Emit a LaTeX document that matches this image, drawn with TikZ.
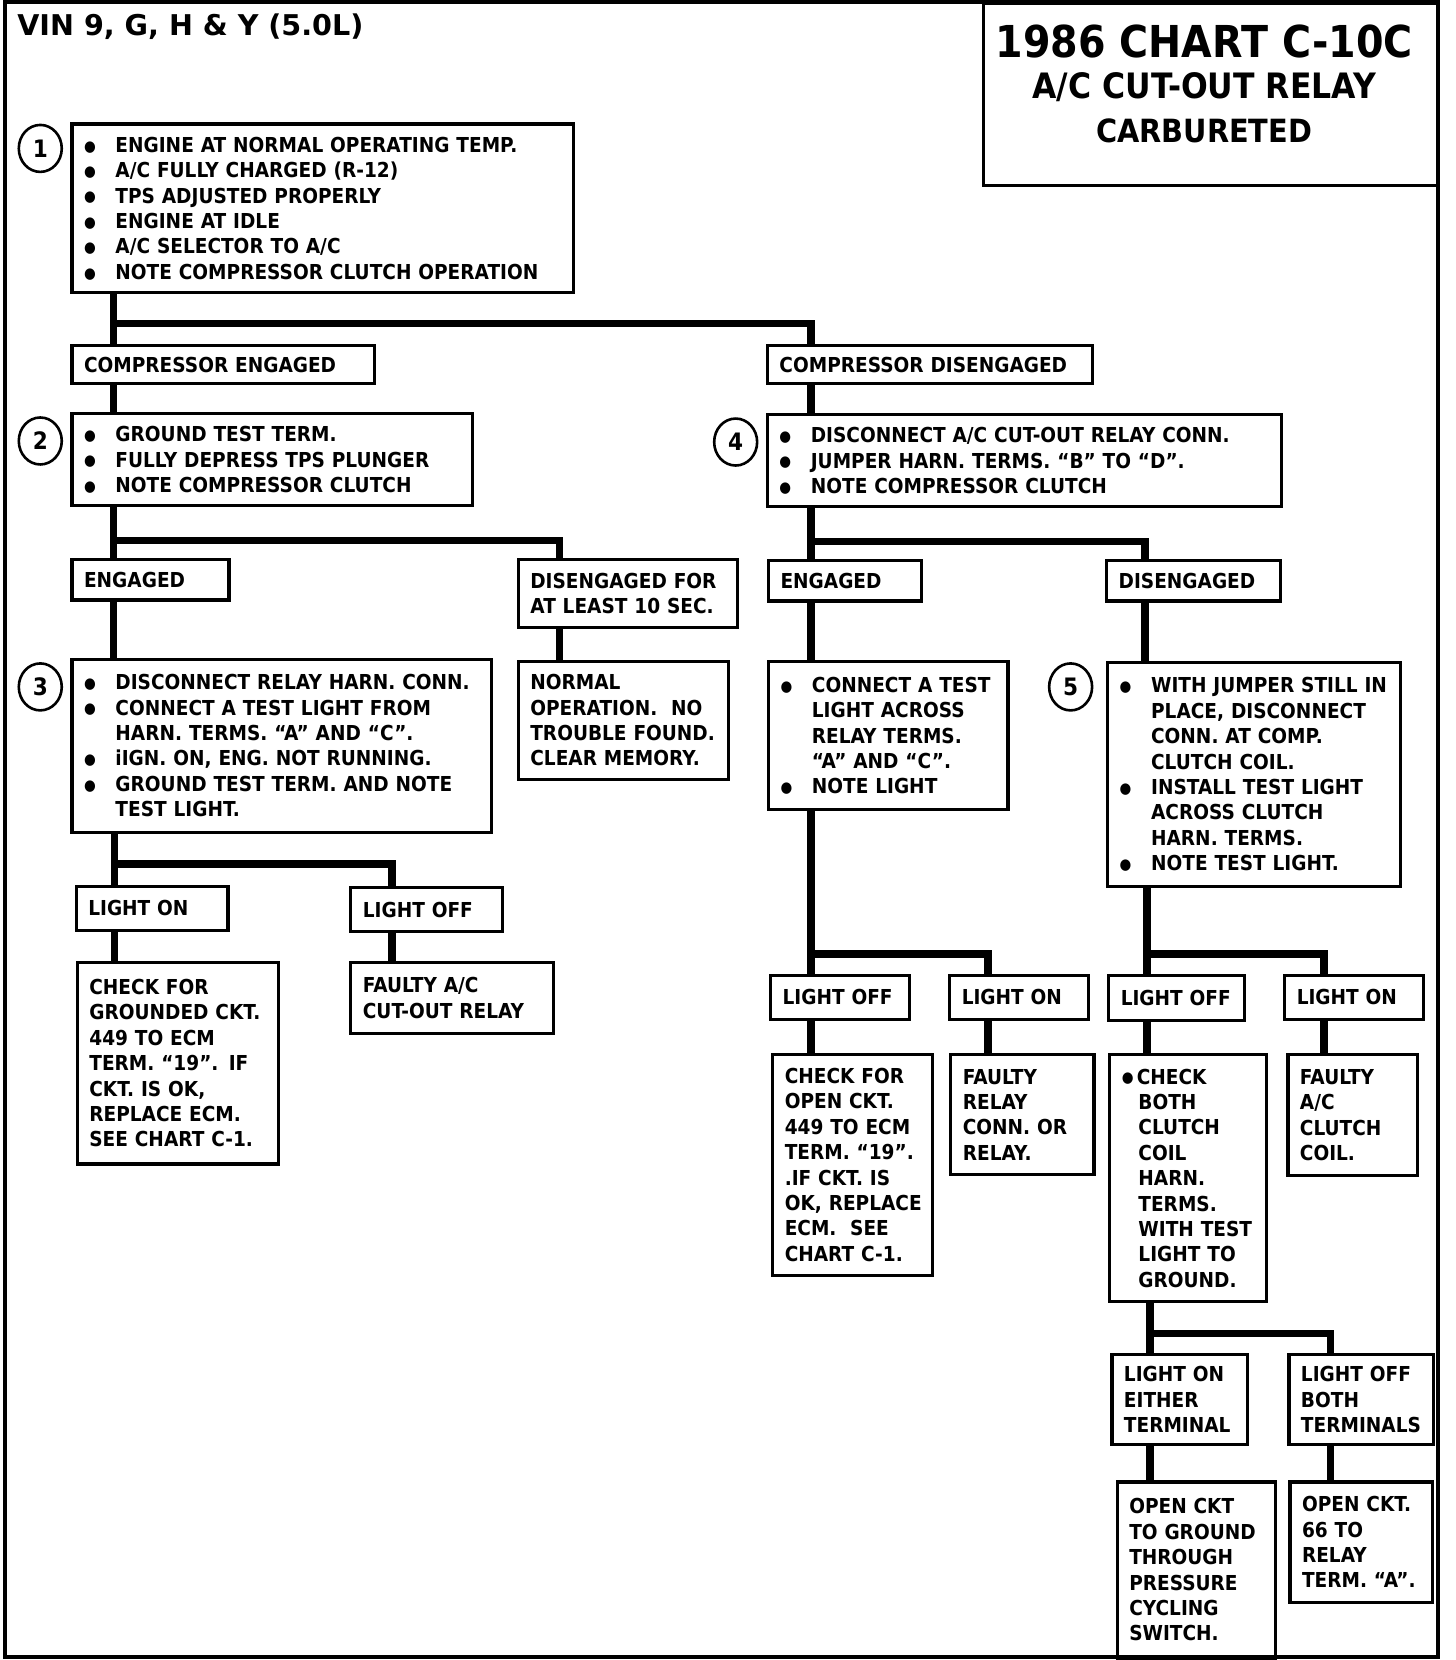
\documentclass[tikz,border=0pt]{standalone}
\usepackage{fontspec}
\usetikzlibrary{shapes.geometric}
\newfontfamily\chartfont{DejaVu Sans}[FakeStretch=0.9]
\newfontfamily\vinfont{DejaVu Sans}
\newlength\bw
\setlength\bw{15.7pt}
\newcommand\blt{\raisebox{0.6pt}{\fontsize{7.5}{7.5}\selectfont ●}}
\newcommand\itm{\makebox[\bw][l]{\blt}}
\newcommand\cont{\hspace*{\bw}}
\newcommand\rows[1]{\raisebox{0pt}[\dimexpr\height+2.4pt\relax][\depth]{\begin{tabular}{@{}l@{}}#1\end{tabular}}}

\begin{document}
\begin{tikzpicture}[x=0.5302pt,y=-0.5302pt,
  box/.style={draw,line width=1.6pt,anchor=north west,outer sep=0pt,inner xsep=6pt,inner ysep=0pt,align=left,
    font=\chartfont\bfseries\fontsize{10.3}{12.7}\selectfont},
  wh/.style 2 args={minimum width=#1*0.5302pt,minimum height=#2*0.5302pt,text width=#1*0.5302pt-12pt},
  stepno/.style={ellipse,draw,line width=1.3pt,minimum width=21.5pt,minimum height=23.5pt,inner sep=0pt,
    font=\chartfont\bfseries\fontsize{12}{12}\selectfont},
  wire/.style={line width=3.8pt}]
\useasboundingbox (0,0) rectangle (1373,1566);
\draw[line width=2pt] (5,2) rectangle (1357,1563);
\path (16,25) node[anchor=west,inner sep=0pt,font=\vinfont\bfseries\fontsize{14.3}{14.3}\selectfont] (vin) {VIN 9, G, H \& Y (5.0L)};
\path (928,3) node[box,wh={429}{172}] (title) {};
\path (1136,39) node[font=\chartfont\bfseries\fontsize{22}{22}\selectfont] (t1) {1986 CHART C-10C};
\path (1136,82) node[font=\chartfont\bfseries\fontsize{17.5}{17.5}\selectfont] (t2) {A/C CUT-OUT RELAY};
\path (1136,123) node[font=\chartfont\bfseries\fontsize{16}{16}\selectfont] (t3) {CARBURETED};
% step 1
\path (38,140) node[stepno] (s1) {1};
\path (68,117) node[box,wh={473}{159}] (0) {\rows{\itm ENGINE AT NORMAL OPERATING TEMP.\\\itm A/C FULLY CHARGED (R-12)\\\itm TPS ADJUSTED PROPERLY\\\itm ENGINE AT IDLE\\\itm A/C SELECTOR TO A/C\\\itm NOTE COMPRESSOR CLUTCH OPERATION}};
\path (68,326) node[box,wh={285}{36}] (1) {COMPRESSOR ENGAGED};
\path (724,326) node[box,wh={307}{36}] (2) {COMPRESSOR DISENGAGED};
\coordinate (0a) at (107,305);
\coordinate (0b) at (765,305);
\draw[wire] (0.south -| 0a) -- (1.north -| 0a);
\draw[wire] (0a) -- (0b) -- (2.north -| 0b);
% step 2
\path (38,416) node[stepno] (s2) {2};
\path (68,390) node[box,wh={378}{87}] (11) {\rows{\itm GROUND TEST TERM.\\\itm FULLY DEPRESS TPS PLUNGER\\\itm NOTE COMPRESSOR CLUTCH}};
\draw[wire] (1.south -| 0a) -- (11.north -| 0a);
\path (68,528) node[box,wh={148}{38}] (111) {ENGAGED};
\path (489,528) node[box,wh={207}{64}] (112) {\rows{DISENGAGED FOR\\AT LEAST 10 SEC.}};
\coordinate (11a) at (107,510);
\coordinate (11b) at (528,510);
\draw[wire] (11.south -| 11a) -- (111.north -| 11a);
\draw[wire] (11a) -- (11b) -- (112.north -| 11b);
% step 3
\path (38,648) node[stepno] (s3) {3};
\path (68,622) node[box,wh={396}{163}] (1111) {\rows{\itm DISCONNECT RELAY HARN. CONN.\\\itm CONNECT A TEST LIGHT FROM\\\cont HARN. TERMS. “A” AND “C”.\\\itm iIGN. ON, ENG. NOT RUNNING.\\\itm GROUND TEST TERM. AND NOTE\\\cont TEST LIGHT.}};
\path (489,624) node[box,wh={198}{111}] (1121) {\rows{NORMAL\\OPERATION.\ \ NO\\TROUBLE FOUND.\\CLEAR MEMORY.}};
\draw[wire] (111.south -| 11a) -- (1111.north -| 11a);
\draw[wire] (112.south -| 11b) -- (1121.north -| 11b);
\path (72,836) node[box,wh={143}{42}] (11111) {LIGHT ON};
\path (331,837) node[box,wh={143}{42}] (11112) {LIGHT OFF};
\coordinate (1111a) at (108,815);
\coordinate (1111b) at (370,815);
\draw[wire] (1111.south -| 1111a) -- (11111.north -| 1111a);
\draw[wire] (1111a) -- (1111b) -- (11112.north -| 1111b);
\path (73,908) node[box,wh={190}{190}] (111111) {\rows{CHECK FOR\\GROUNDED CKT.\\449 TO ECM\\TERM. “19”. IF\\CKT. IS OK,\\REPLACE ECM.\\SEE CHART C-1.}};
\path (331,908) node[box,wh={191}{67}] (111121) {\rows{FAULTY A/C\\CUT-OUT RELAY}};
\draw[wire] (11111.south -| 1111a) -- (111111.north -| 1111a);
\draw[wire] (11112.south -| 1111b) -- (111121.north -| 1111b);
% step 4
\path (694,417) node[stepno] (s4) {4};
\path (724,391) node[box,wh={485}{87}] (21) {\rows{\itm DISCONNECT A/C CUT-OUT RELAY CONN.\\\itm JUMPER HARN. TERMS. “B” TO “D”.\\\itm NOTE COMPRESSOR CLUTCH}};
\draw[wire] (2.south -| 0b) -- (21.north -| 0b);
\path (725,529) node[box,wh={144}{38}] (211) {ENGAGED};
\path (1044,529) node[box,wh={164}{38}] (212) {DISENGAGED};
\coordinate (21a) at (765,511);
\coordinate (21b) at (1080,511);
\draw[wire] (21.south -| 21a) -- (211.north -| 21a);
\draw[wire] (21a) -- (21b) -- (212.north -| 21b);
\path (725,624) node[box,wh={226}{140}] (2111) {\rows{\itm CONNECT A TEST\\\cont LIGHT ACROSS\\\cont RELAY TERMS.\\\cont “A” AND “C”.\\\itm NOTE LIGHT}};
\draw[wire] (211.south -| 21a) -- (2111.north -| 21a);
\path (727,920) node[box,wh={131}{42}] (21111) {LIGHT OFF};
\path (896,920) node[box,wh={131}{42}] (21112) {LIGHT ON};
\coordinate (2111a) at (765,900);
\coordinate (2111b) at (932,900);
\draw[wire] (2111.south -| 2111a) -- (21111.north -| 2111a);
\draw[wire] (2111a) -- (2111b) -- (21112.north -| 2111b);
\path (729,995) node[box,wh={151}{208}] (211111) {\rows{CHECK FOR\\OPEN CKT.\\449 TO ECM\\TERM. “19”.\\.IF CKT. IS\\OK, REPLACE\\ECM.\ \ SEE\\CHART C-1.}};
\path (897,995) node[box,wh={135}{113}] (211121) {\rows{FAULTY\\RELAY\\CONN. OR\\RELAY.}};
\draw[wire] (21111.south -| 2111a) -- (211111.north -| 2111a);
\draw[wire] (21112.south -| 2111b) -- (211121.north -| 2111b);
% step 5
\path (1010,648) node[stepno] (s5) {5};
\path (1045,625) node[box,wh={276}{211}] (2121) {\rows{\itm WITH JUMPER STILL IN\\\cont PLACE, DISCONNECT\\\cont CONN. AT COMP.\\\cont CLUTCH COIL.\\\itm INSTALL TEST LIGHT\\\cont ACROSS CLUTCH\\\cont HARN. TERMS.\\\itm NOTE TEST LIGHT.}};
\draw[wire] (212.south -| 21b) -- (2121.north -| 21b);
\path (1046,920) node[box,wh={128}{43}] (21211) {LIGHT OFF};
\path (1212,920) node[box,wh={131}{42}] (21212) {LIGHT ON};
\coordinate (2121a) at (1082,900);
\coordinate (2121b) at (1249,900);
\draw[wire] (2121.south -| 2121a) -- (21211.north -| 2121a);
\draw[wire] (2121a) -- (2121b) -- (21212.north -| 2121b);
\path (1047,995) node[box,wh={148}{233}] (212111) {\rows{\makebox[7.5pt][l]{\blt}CHECK\\\hspace*{8.3pt}BOTH\\\hspace*{8.3pt}CLUTCH\\\hspace*{8.3pt}COIL\\\hspace*{8.3pt}HARN.\\\hspace*{8.3pt}TERMS.\\\hspace*{8.3pt}WITH TEST\\\hspace*{8.3pt}LIGHT TO\\\hspace*{8.3pt}GROUND.}};
\path (1215,995) node[box,wh={122}{114}] (212121) {\rows{FAULTY\\A/C\\CLUTCH\\COIL.}};
\draw[wire] (21211.south -| 2121a) -- (212111.north -| 2121a);
\draw[wire] (21212.south -| 2121b) -- (212121.north -| 2121b);
\path (1049,1278) node[box,wh={128}{85}] (2121111) {\rows{LIGHT ON\\EITHER\\TERMINAL}};
\path (1216,1278) node[box,wh={136}{85}] (2121112) {\rows{LIGHT OFF\\BOTH\\TERMINALS}};
\coordinate (212111a) at (1085,1258);
\coordinate (212111b) at (1255,1258);
\draw[wire] (212111.south -| 212111a) -- (2121111.north -| 212111a);
\draw[wire] (212111a) -- (212111b) -- (2121112.north -| 212111b);
\path (1054,1398) node[box,wh={149}{166}] (21211111) {\rows{OPEN CKT\\TO GROUND\\THROUGH\\PRESSURE\\CYCLING\\SWITCH.}};
\path (1217,1398) node[box,wh={134}{114}] (21211121) {\rows{OPEN CKT.\\66 TO\\RELAY\\TERM. “A”.}};
\draw[wire] (2121111.south -| 212111a) -- (21211111.north -| 212111a);
\draw[wire] (2121112.south -| 212111b) -- (21211121.north -| 212111b);
\end{tikzpicture}
\end{document}
